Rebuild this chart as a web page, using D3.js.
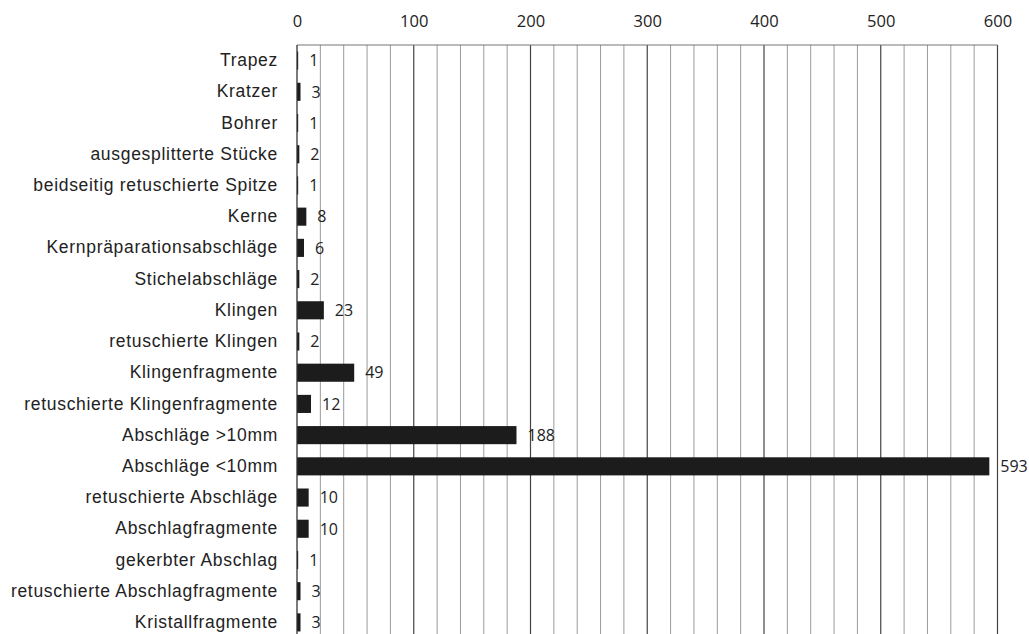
<!DOCTYPE html>
<html>
<head>
<meta charset="utf-8">
<script src="https://cdn.jsdelivr.net/npm/d3@7"></script>
<style>
  html, body { margin: 0; padding: 0; background: #fff; }
  svg { display: block; }
</style>
</head>
<body>
<script>
// Artefact categories and counts
const categories = [
  "Trapez", "Kratzer", "Bohrer", "ausgesplitterte Stücke",
  "beidseitig retuschierte Spitze", "Kerne", "Kernpräparationsabschläge",
  "Stichelabschläge", "Klingen", "retuschierte Klingen", "Klingenfragmente",
  "retuschierte Klingenfragmente", "Abschläge >10mm", "Abschläge <10mm",
  "retuschierte Abschläge", "Abschlagfragmente", "gekerbter Abschlag",
  "retuschierte Abschlagfragmente", "Kristallfragmente"
];
const counts = [1, 3, 1, 2, 1, 8, 6, 2, 23, 2, 49, 12, 188, 593, 10, 10, 1, 3, 3];
const majorTicks = [0, 100, 200, 300, 400, 500, 600];
const minorTicks = d3.range(20, 600, 20).filter(v => v % 100 !== 0);

const W = 1029, H = 634;
const plotLeft = 297, plotRight = 997.5, plotTop = 45, plotBottom = 638;

const svg = d3.select("body").append("svg")
  .attr("width", W).attr("height", H);

const x = d3.scaleLinear().domain([0, 600]).range([plotLeft, plotRight]);
const y = d3.scaleBand().domain(categories).range([plotTop, plotBottom])
  .paddingInner(0.42).paddingOuter(0.21);

// Gridlines
svg.append("g").selectAll("line").data(minorTicks).join("line")
  .attr("x1", d => x(d)).attr("x2", d => x(d))
  .attr("y1", plotTop).attr("y2", plotBottom)
  .attr("stroke", "#9a9a9a").attr("stroke-width", 1);
svg.append("g").selectAll("line").data(majorTicks.slice(1)).join("line")
  .attr("x1", d => x(d)).attr("x2", d => x(d))
  .attr("y1", plotTop).attr("y2", plotBottom)
  .attr("stroke", "#444").attr("stroke-width", 1.2);

// Top border
svg.append("line")
  .attr("x1", plotLeft).attr("x2", plotRight).attr("y1", plotTop).attr("y2", plotTop)
  .attr("stroke", "#777").attr("stroke-width", 1.2);

// Top axis labels
const xAxis = d3.axisTop(x).tickValues(majorTicks).tickSize(0).tickPadding(0);
const gx = svg.append("g").attr("transform", "translate(0,27)").call(xAxis);
gx.select(".domain").remove();
gx.selectAll("text")
  .attr("font-family", "'Open Sans', sans-serif")
  .attr("font-size", 16.5)
  .attr("fill", "#222")
  .attr("dy", 0);

// Bars
svg.append("g").selectAll("rect").data(counts).join("rect")
  .attr("x", x(0))
  .attr("y", (d, i) => y(categories[i]))
  .attr("width", d => x(d) - x(0))
  .attr("height", y.bandwidth())
  .attr("fill", "#1c1c1c");

// Left axis line
svg.append("line")
  .attr("x1", plotLeft).attr("x2", plotLeft).attr("y1", plotTop).attr("y2", plotBottom)
  .attr("stroke", "#333").attr("stroke-width", 1.3);

// Category labels
const yAxis = d3.axisLeft(y).tickSize(0).tickPadding(19);
const gy = svg.append("g").attr("transform", `translate(${plotLeft},0)`).call(yAxis);
gy.select(".domain").remove();
gy.selectAll("text")
  .attr("font-family", "'Liberation Sans', Arial, sans-serif")
  .attr("font-size", 17.5)
  .attr("letter-spacing", 0.7)
  .attr("fill", "#222");

// Value labels
svg.append("g").selectAll("text").data(counts).join("text")
  .attr("x", d => x(d) + 11)
  .attr("y", (d, i) => y(categories[i]) + y.bandwidth() / 2)
  .attr("dy", "0.36em")
  .attr("font-family", "'Open Sans', sans-serif")
  .attr("font-size", 16)
  .attr("fill", "#222")
  .text(d => d);
</script>
</body>
</html>
